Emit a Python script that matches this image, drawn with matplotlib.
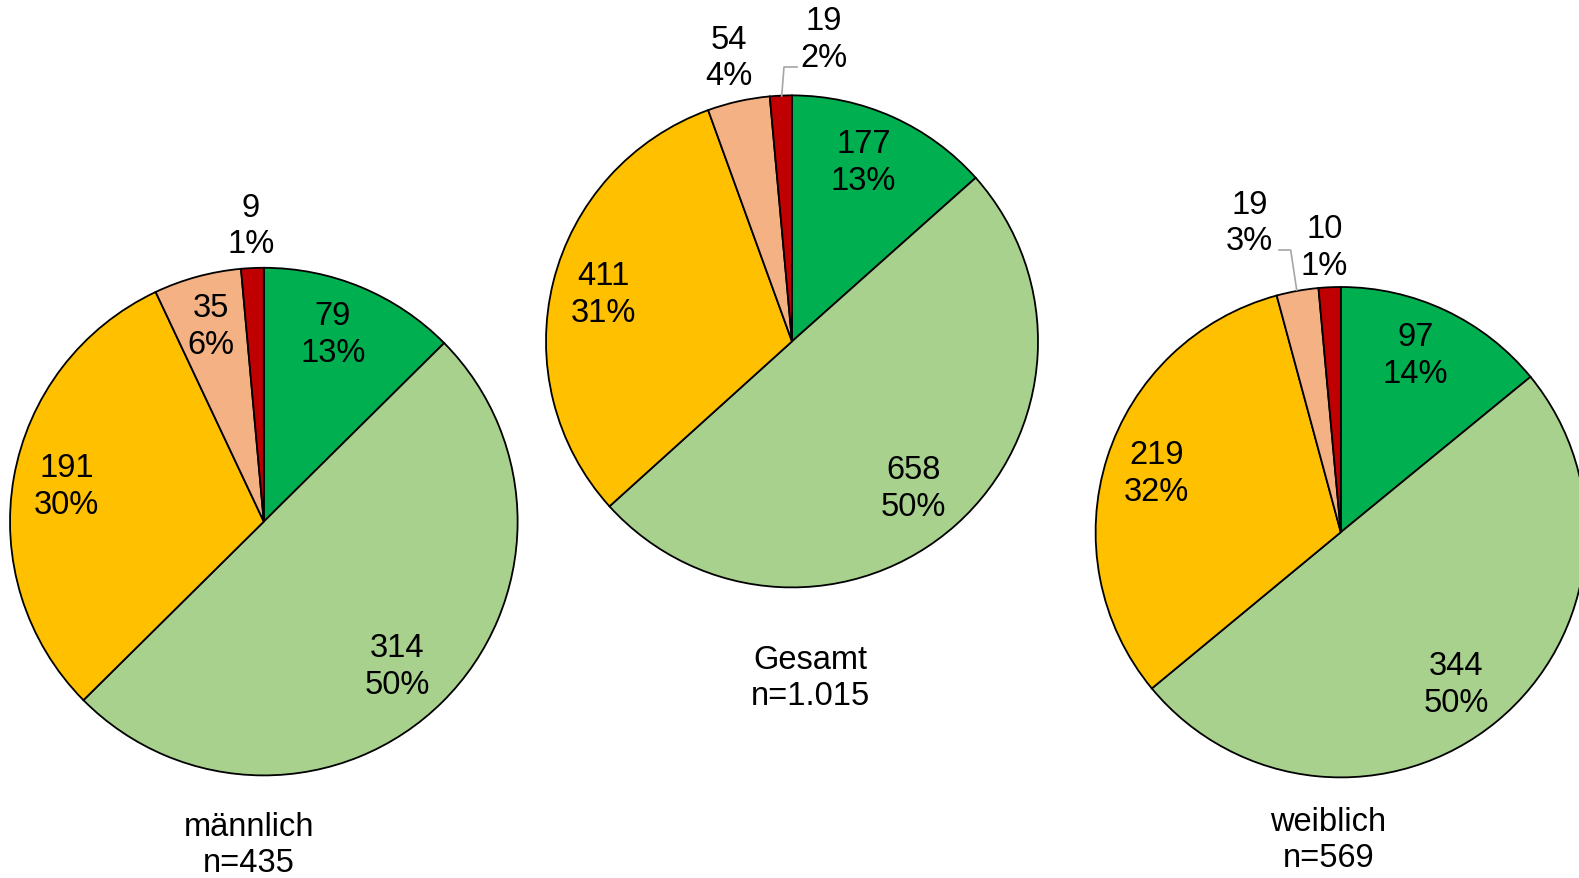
import numpy as np
import matplotlib
matplotlib.use("Agg")
import matplotlib.pyplot as plt

plt.rcParams['font.family'] = ['Liberation Sans', 'DejaVu Sans']

# data
titles = ["männlich\nn=435", "Gesamt\nn=1.015", "weiblich\nn=569"]
maennlich = [79, 314, 191, 35, 9]
gesamt = [177, 658, 411, 54, 19]
weiblich = [97, 344, 219, 19, 10]
pct_maennlich = ["13%", "50%", "30%", "6%", "1%"]
pct_gesamt = ["13%", "50%", "31%", "4%", "2%"]
pct_weiblich = ["14%", "50%", "32%", "3%", "1%"]
colors = ["#00B050", "#A9D18E", "#FFC000", "#F4B183", "#C00000"]

W, H = 1579, 879
fig = plt.figure(figsize=(W / 100, H / 100), dpi=100)
ax = fig.add_axes([0, 0, 1, 1])

# layout in pixel coordinates (y from top)
centers = [(263.8, 522.6), (792.0, 342.4), (1340.8, 533.2)]
radii = [253.8, 246.0, 245.2]
title_pos = [(248.7, 845.5), (810.6, 678.5), (1328.2, 840.5)]
# labels placed outside the pie (index -> pixel position)
outside = [
    {4: (250.7, 226.6)},
    {3: (729.0, 58.4), 4: (823.7, 40.3)},
    {3: (1249.7, 223.5), 4: (1324.2, 247.7)},
]
leaders = [
    [],
    [[(781.7, 97), (784, 68), (797, 68)]],
    [[(1296.7, 291), (1290.7, 251), (1279, 251)]],
]

series = [maennlich, gesamt, weiblich]
pcts = [pct_maennlich, pct_gesamt, pct_weiblich]
FS = 23.5
LS = 1.24

for i, vals in enumerate(series):
    cx, cy = centers[i]
    r = radii[i]
    ax.pie(vals, colors=colors, startangle=90, counterclock=False,
           center=(cx, H - cy), radius=r, frame=True,
           wedgeprops=dict(edgecolor="black", linewidth=1.3))
    total = sum(vals)
    cum = 0
    for j, v in enumerate(vals):
        mid = 90 - (cum + v / 2) / total * 360
        cum += v
        txt = f"{v}\n{pcts[i][j]}"
        if j in outside[i]:
            x, y = outside[i][j]
            y = H - y
        else:
            c, s = np.cos(np.radians(mid)), np.sin(np.radians(mid))
            x = cx + 0.79 * r * c - (8 if c > 0.2 else 0)
            y = (H - cy) + 0.8 * r * s
        ax.text(x, y, txt, ha="center", va="center", fontsize=FS,
                linespacing=LS, color="black")
    for pts in leaders[i]:
        xs = [p[0] for p in pts]
        ys = [H - p[1] for p in pts]
        ax.plot(xs, ys, color="#A6A6A6", lw=1.2)
    tx, ty = title_pos[i]
    ax.text(tx, H - ty, titles[i], ha="center", va="center", fontsize=FS,
            linespacing=LS, color="black")

ax.set_xlim(0, W)
ax.set_ylim(0, H)
ax.set_aspect("equal")
ax.axis("off")

fig.savefig("out.png", dpi=100)
